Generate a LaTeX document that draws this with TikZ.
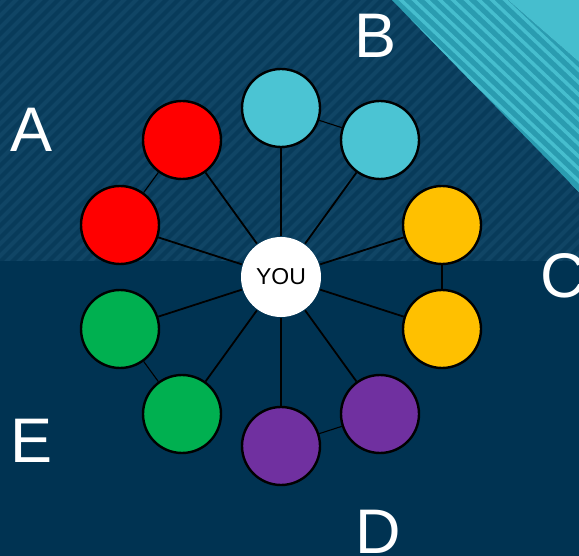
\documentclass[tikz,border=0pt]{standalone}
\usepackage{fontspec}
\setmainfont{Liberation Sans}
\definecolor{navy}{HTML}{003352}
\definecolor{navyhatch}{HTML}{083B5A}
\definecolor{navystripe}{HTML}{104565}
\definecolor{tealband}{HTML}{2A9CB0}
\definecolor{teallight}{HTML}{46BECE}
\definecolor{circteal}{HTML}{4BC4D3}
\definecolor{circred}{HTML}{FF0000}
\definecolor{circyellow}{HTML}{FFC000}
\definecolor{circpurple}{HTML}{7030A0}
\definecolor{circgreen}{HTML}{00B050}
\tikzset{vertex/.style = {shape = circle, draw, line width = 2.4pt, minimum size = 78pt, inner sep = 0pt}}
\tikzset{spoke/.style = {line width = 1.8pt}}
\tikzset{link/.style = {line width = 1.1pt}}
\tikzset{group/.style = {text = white, inner sep = 0pt, font = \fontsize{63}{63}\selectfont}}

\begin{document}
\begin{tikzpicture}[x = 1pt, y = -1pt]
	\clip (0,0) rectangle (579,556);
	\fill[navy] (0,0) rectangle (579,556);
	\begin{scope}
		\clip (0,0) rectangle (579,261);
		\fill[navyhatch] (0,0) rectangle (579,261);
		\foreach \k in {-300,-288,...,600}
			\draw[navystripe, line width = 4pt] (\k,280) -- ++(300,-300);
	\end{scope}
	\fill[tealband] (392,0) -- (579,192) -- (579,62) -- (508,0) -- cycle;
	\begin{scope}
		\clip (392,0) -- (579,192) -- (579,62) -- (508,0) -- cycle;
		\foreach \k in {362,375,...,530}
			\draw[teallight, line width = 3.5pt] (\k-30,-28.5) -- (\k+250,237.5);
	\end{scope}
	\fill[teallight] (508,0) -- (579,62) -- (579,0) -- cycle;

	\node[vertex, fill = white, draw = none, minimum size = 80pt, font = \fontsize{23}{23}\selectfont] (you) at (281,277) {YOU};
	\node[vertex, fill = circred] (a1) at (182,140) {};
	\node[vertex, fill = circred] (a2) at (120,225) {};
	\node[vertex, fill = circteal] (b1) at (281,108) {};
	\node[vertex, fill = circteal] (b2) at (380,140) {};
	\node[vertex, fill = circyellow] (c1) at (442,225) {};
	\node[vertex, fill = circyellow] (c2) at (442,329) {};
	\node[vertex, fill = circpurple] (d1) at (380,414) {};
	\node[vertex, fill = circpurple] (d2) at (281,446) {};
	\node[vertex, fill = circgreen] (e1) at (182,414) {};
	\node[vertex, fill = circgreen] (e2) at (120,329) {};

	\foreach \v in {a1,a2,b1,b2,c1,c2,d1,d2,e1,e2}
		\draw[spoke] (you) -- (\v);
	\draw[link] (a1) -- (a2);
	\draw[link] (b1) -- (b2);
	\draw[link] (c1) -- (c2);
	\draw[link] (d1) -- (d2);
	\draw[link] (e1) -- (e2);

	\node[group, anchor = base] (la) at (32,152) {A};
	\node[group, anchor = base] (lb) at (376,58) {B};
	\node[group, anchor = base west] (lc) at (540,298) {C};
	\node[group, anchor = base] (ld) at (378,553) {D};
	\node[group, anchor = base] (le) at (32,462) {E};
\end{tikzpicture}
\end{document}
